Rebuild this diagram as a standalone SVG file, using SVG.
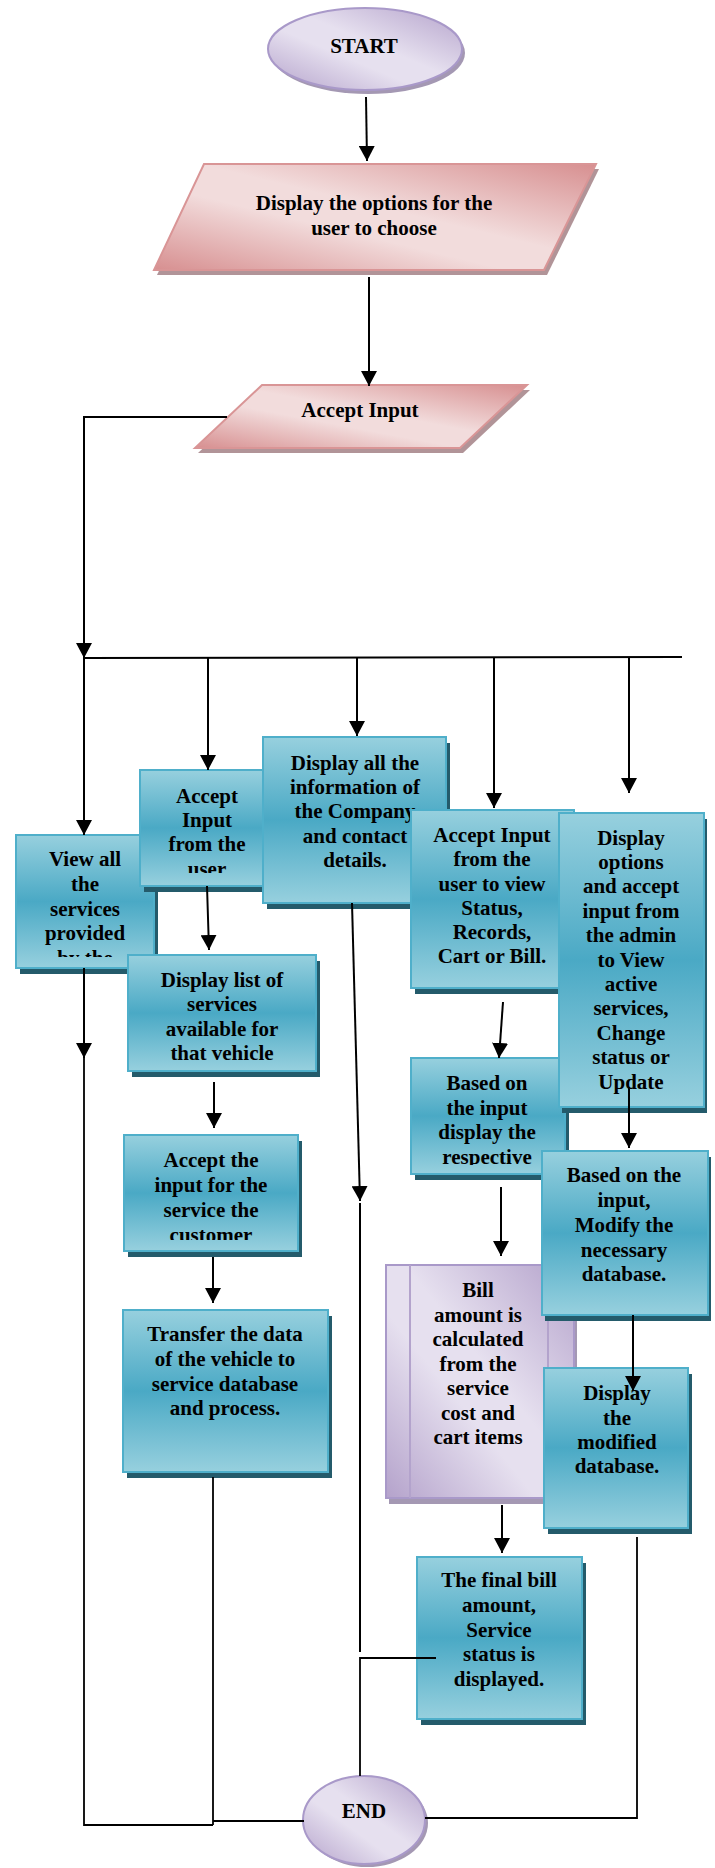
<svg xmlns="http://www.w3.org/2000/svg" width="715" height="1868" viewBox="0 0 715 1868">
  <defs>
    <style>
      .t { font-family: "Liberation Serif", "Times New Roman", serif; font-weight: bold; font-size: 21px; text-anchor: middle; fill: #000; }
      .box { fill: url(#teal); stroke: #4fafca; stroke-width: 2; }
      .bsh { fill: #245b6b; }
      .pink { fill: url(#rose); stroke: #d99596; stroke-width: 2; }
      .psh { fill: #b19498; }
      .lav { fill: url(#lilac); stroke: #a999c9; stroke-width: 2; }
      .lsh { fill: #a498b3; }
      .ln { fill: none; stroke: #000; stroke-width: 2; }
      .thin { fill: none; stroke: #000; stroke-width: 1.8; }
      .arr { marker-end: url(#ah); }
    </style>
    <linearGradient id="teal" x1="0" y1="0" x2="0" y2="1">
      <stop offset="0" stop-color="#97d0de"/>
      <stop offset="0.5" stop-color="#4aa9c5"/>
      <stop offset="1" stop-color="#97d0de"/>
    </linearGradient>
    <linearGradient id="rose" x1="1" y1="0" x2="0" y2="1">
      <stop offset="0" stop-color="#d78f90"/>
      <stop offset="0.45" stop-color="#f2dcdc"/>
      <stop offset="0.6" stop-color="#f2dcdc"/>
      <stop offset="1" stop-color="#d78f90"/>
    </linearGradient>
    <linearGradient id="lilac" x1="1" y1="0" x2="0" y2="1">
      <stop offset="0" stop-color="#b4a2cb"/>
      <stop offset="0.45" stop-color="#e6e0ef"/>
      <stop offset="0.6" stop-color="#e6e0ef"/>
      <stop offset="1" stop-color="#b4a2cb"/>
    </linearGradient>
    <marker id="ah" viewBox="0 0 15 16" refX="15" refY="8" markerWidth="15" markerHeight="16" markerUnits="userSpaceOnUse" orient="auto">
      <path d="M0,0 L15,8 L0,16 z" fill="#000"/>
    </marker>
    <clipPath id="clipView"><rect x="16" y="835" width="138" height="122"/></clipPath>
    <clipPath id="clipUser"><rect x="140" y="770" width="134" height="103"/></clipPath>
    <clipPath id="clipBased"><rect x="411" y="1058" width="154" height="107"/></clipPath>
    <clipPath id="clipSvc"><rect x="124" y="1135" width="174" height="105"/></clipPath>
  </defs>

  <!-- terminator: start -->
  <g id="start">
    <ellipse cx="368" cy="53" rx="97" ry="41" class="lsh"/>
    <ellipse cx="365" cy="49" rx="97" ry="41" class="lav"/>
    <text x="364" y="53" class="t">START</text>
  </g>

  <!-- input/output: option menu -->
  <g id="show-options">
    <polygon points="207,169 599,169 547,275 157,275" class="psh"/>
    <polygon points="204,164 596,164 544,270 154,270" class="pink"/>
    <text x="374" y="210" class="t">Display the options for the</text>
    <text x="374" y="235" class="t">user to choose</text>
  </g>

  <g id="accept-input">
    <polygon points="265,390 530,390 463,453 198,453" class="psh"/>
    <polygon points="262,385 527,385 460,448 195,448" class="pink"/>
    <text x="360" y="417" class="t">Accept Input</text>
  </g>

  <!-- first row of process boxes -->
  <g id="view-services">
    <rect x="20" y="841" width="138" height="133" class="bsh"/>
    <rect x="16" y="835" width="138" height="133" class="box"/>
    <g clip-path="url(#clipView)">
      <text x="85" y="866" class="t">View all</text>
      <text x="85" y="891" class="t">the</text>
      <text x="85" y="916" class="t">services</text>
      <text x="85" y="940" class="t">provided</text>
      <text x="85" y="965" class="t">by the</text>
    </g>
  </g>

  <g id="user-input">
    <rect x="144" y="776" width="132" height="116" class="bsh"/>
    <rect x="140" y="770" width="132" height="116" class="box"/>
    <g clip-path="url(#clipUser)">
      <text x="207" y="803" class="t">Accept</text>
      <text x="207" y="827" class="t">Input</text>
      <text x="207" y="851" class="t">from the</text>
      <text x="207" y="876" class="t">user</text>
    </g>
  </g>

  <g id="company-info">
    <rect x="267" y="743" width="183" height="166" class="bsh"/>
    <rect x="263" y="737" width="183" height="166" class="box"/>
    <text x="355" y="770" class="t">Display all the</text>
    <text x="355" y="794" class="t">information of</text>
    <text x="355" y="818" class="t">the Company</text>
    <text x="355" y="843" class="t">and contact</text>
    <text x="355" y="867" class="t">details.</text>
  </g>

  <g id="status-input">
    <rect x="415" y="816" width="163" height="178" class="bsh"/>
    <rect x="411" y="810" width="163" height="178" class="box"/>
    <text x="492" y="842" class="t">Accept Input</text>
    <text x="492" y="866" class="t">from the</text>
    <text x="492" y="891" class="t">user to view</text>
    <text x="492" y="915" class="t">Status,</text>
    <text x="492" y="939" class="t">Records,</text>
    <text x="492" y="963" class="t">Cart or Bill.</text>
  </g>

  <g id="show-respective">
    <rect x="415" y="1064" width="154" height="116" class="bsh"/>
    <rect x="411" y="1058" width="154" height="116" class="box"/>
    <g clip-path="url(#clipBased)">
      <text x="487" y="1090" class="t">Based on</text>
      <text x="487" y="1115" class="t">the input</text>
      <text x="487" y="1139" class="t">display the</text>
      <text x="487" y="1164" class="t">respective</text>
    </g>
  </g>

  <g id="admin-options">
    <rect x="562" y="819" width="145" height="294" class="bsh"/>
    <rect x="559" y="813" width="145" height="294" class="box"/>
    <text x="631" y="845" class="t">Display</text>
    <text x="631" y="869" class="t">options</text>
    <text x="631" y="893" class="t">and accept</text>
    <text x="631" y="918" class="t">input from</text>
    <text x="631" y="942" class="t">the admin</text>
    <text x="631" y="967" class="t">to View</text>
    <text x="631" y="991" class="t">active</text>
    <text x="631" y="1015" class="t">services,</text>
    <text x="631" y="1040" class="t">Change</text>
    <text x="631" y="1064" class="t">status or</text>
    <text x="631" y="1089" class="t">Update</text>
  </g>

  <!-- customer service branch -->
  <g id="service-list">
    <rect x="132" y="961" width="188" height="116" class="bsh"/>
    <rect x="128" y="955" width="188" height="116" class="box"/>
    <text x="222" y="987" class="t">Display list of</text>
    <text x="222" y="1011" class="t">services</text>
    <text x="222" y="1036" class="t">available for</text>
    <text x="222" y="1060" class="t">that vehicle</text>
  </g>

  <g id="service-choice">
    <rect x="128" y="1141" width="174" height="116" class="bsh"/>
    <rect x="124" y="1135" width="174" height="116" class="box"/>
    <g clip-path="url(#clipSvc)">
      <text x="211" y="1167" class="t">Accept the</text>
      <text x="211" y="1192" class="t">input for the</text>
      <text x="211" y="1217" class="t">service the</text>
      <text x="211" y="1242" class="t">customer</text>
    </g>
  </g>

  <g id="transfer-data">
    <rect x="127" y="1316" width="205" height="162" class="bsh"/>
    <rect x="123" y="1310" width="205" height="162" class="box"/>
    <text x="225" y="1341" class="t">Transfer the data</text>
    <text x="225" y="1366" class="t">of the vehicle to</text>
    <text x="225" y="1391" class="t">service database</text>
    <text x="225" y="1415" class="t">and process.</text>
  </g>

  <!-- billing: predefined process -->
  <g id="bill-calc">
    <rect x="389" y="1271" width="188" height="233" class="lsh"/>
    <rect x="386" y="1265" width="188" height="233" class="lav"/>
    <line x1="410" y1="1265" x2="410" y2="1498" stroke="#b3a3cc" stroke-width="2"/>
    <line x1="548" y1="1265" x2="548" y2="1498" stroke="#b3a3cc" stroke-width="2"/>
    <text x="478" y="1297" class="t">Bill</text>
    <text x="478" y="1322" class="t">amount is</text>
    <text x="478" y="1346" class="t">calculated</text>
    <text x="478" y="1371" class="t">from the</text>
    <text x="478" y="1395" class="t">service</text>
    <text x="478" y="1420" class="t">cost and</text>
    <text x="478" y="1444" class="t">cart items</text>
  </g>

  <!-- admin branch -->
  <g id="modify-db">
    <rect x="545" y="1157" width="166" height="164" class="bsh"/>
    <rect x="542" y="1151" width="166" height="164" class="box"/>
    <text x="624" y="1182" class="t">Based on the</text>
    <text x="624" y="1207" class="t">input,</text>
    <text x="624" y="1232" class="t">Modify the</text>
    <text x="624" y="1257" class="t">necessary</text>
    <text x="624" y="1281" class="t">database.</text>
  </g>

  <g id="show-db">
    <rect x="548" y="1374" width="144" height="160" class="bsh"/>
    <rect x="544" y="1368" width="144" height="160" class="box"/>
    <text x="617" y="1400" class="t">Display</text>
    <text x="617" y="1425" class="t">the</text>
    <text x="617" y="1449" class="t">modified</text>
    <text x="617" y="1473" class="t">database.</text>
  </g>

  <g id="final-bill">
    <rect x="421" y="1563" width="165" height="162" class="bsh"/>
    <rect x="417" y="1557" width="165" height="162" class="box"/>
    <text x="499" y="1587" class="t">The final bill</text>
    <text x="499" y="1612" class="t">amount,</text>
    <text x="499" y="1637" class="t">Service</text>
    <text x="499" y="1661" class="t">status is</text>
    <text x="499" y="1686" class="t">displayed.</text>
  </g>

  <!-- terminator: end -->
  <g id="end">
    <ellipse cx="367" cy="1823" rx="61" ry="44" class="lsh"/>
    <ellipse cx="364" cy="1820" rx="61" ry="44" class="lav"/>
    <text x="364" y="1818" class="t">END</text>
  </g>

  <!-- connectors -->
  <g id="connectors">
    <path d="M366,97 L367,161" class="ln arr"/>
    <path d="M369,277 L369,386" class="ln arr"/>
    <path d="M227,417 H84 V658" class="ln arr"/>
    <path d="M84,658 L682,657" class="ln"/>
    <path d="M84,658 V835" class="ln arr"/>
    <path d="M208,658 V770" class="ln arr"/>
    <path d="M357,658 V736" class="ln arr"/>
    <path d="M494,658 V808" class="ln arr"/>
    <path d="M629,658 V793" class="ln arr"/>

    <path d="M84,968 V1058" class="ln arr"/>
    <path d="M84,1057 V1825 H213" class="thin"/>
    <path d="M207,886 L209,950" class="ln arr"/>
    <path d="M214,1082 V1128" class="ln arr"/>
    <path d="M213,1257 V1303" class="ln arr"/>
    <path d="M213,1477 V1825" class="thin"/>
    <path d="M213,1821 H304" class="thin"/>

    <path d="M352,903 L360,1201" class="ln arr"/>
    <path d="M360,1203 L360,1652" class="ln"/>
    <path d="M436,1658 H360 V1776" class="thin"/>

    <path d="M503,1002 L499,1058" class="ln arr"/>
    <path d="M501,1187 V1256" class="ln arr"/>
    <path d="M502,1505 V1553" class="ln arr"/>

    <path d="M629,1087 V1148" class="ln arr"/>
    <path d="M633,1315 V1391" class="ln arr"/>
    <path d="M637,1537 V1818 H425" class="thin"/>
  </g>
</svg>
